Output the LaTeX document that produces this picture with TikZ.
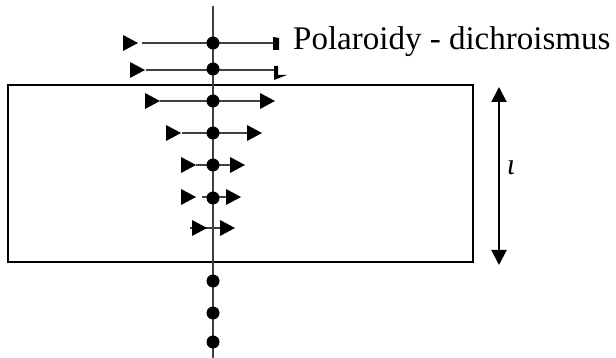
\documentclass[tikz,border=0pt]{standalone}
\usepackage{fontspec}
\setmainfont{Liberation Serif}
\usetikzlibrary{arrows.meta}
\begin{document}
\begin{tikzpicture}[x=1pt,y=-1pt,
  ray/.style={line width=2.4pt,draw=black!75},
  dot/.style={circle,fill=black,inner sep=0pt,minimum size=13pt},
  tri/.pic={\fill (0,-8) -- (15,0) -- (0,8) -- cycle;}]
\useasboundingbox (0,0) rectangle (616,358);
% polarizer
\draw[line width=1.6pt] (8,85) rectangle (473,262);
% beam axis
\coordinate (top) at (213,6);
\coordinate (bot) at (213,358);
\draw[ray] (top) -- (bot);
% row 1
\coordinate (a1) at (142,43); \coordinate (b1) at (275,43);
\draw[ray] (a1) -- (b1);
\pic at (123,43) {tri};
\fill (273,37) -- (279,38) -- (279,50) -- (273,50) -- cycle;
% row 2
\coordinate (a2) at (146,70); \coordinate (b2) at (277,70);
\draw[ray] (a2) -- (b2);
\pic at (130,70) {tri};
\fill (274,66) -- (278,66) -- (278,75) -- (287,75) -- (274,80) -- cycle;
% row 3
\coordinate (a3) at (160,101); \coordinate (b3) at (260,101);
\draw[ray] (a3) -- (b3);
\pic at (145,101) {tri}; \pic at (260,101) {tri};
% row 4
\coordinate (a4) at (182,133); \coordinate (b4) at (247,133);
\draw[ray] (a4) -- (b4);
\pic at (166,133) {tri}; \pic at (247,133) {tri};
% row 5
\coordinate (a5) at (196,165); \coordinate (b5) at (230,165);
\draw[ray] (a5) -- (b5);
\pic at (181,165) {tri}; \pic at (230,165) {tri};
% row 6
\coordinate (a6) at (202,197); \coordinate (b6) at (226,197);
\draw[ray] (a6) -- (b6);
\pic at (181,197) {tri}; \pic at (226,197) {tri};
% row 7
\coordinate (a7) at (190,228); \coordinate (b7) at (220,228);
\draw[ray] (a7) -- (b7);
\pic at (192,228) {tri}; \pic at (220,228) {tri};
% dots
\foreach \n/\y in {1/43,2/69,3/101,4/133,5/165,6/198,7/281,8/313,9/342}
  \node[dot] (d\n) at (213,\y) {};
% label
\node[anchor=base west,font=\fontsize{33}{38}\selectfont,inner sep=0pt] (lab) at (293,50) {Polaroidy - dichroismus};
% thickness arrow
\coordinate (t1) at (499,87);
\coordinate (t2) at (499,265);
\draw[line width=2pt,{Triangle[width=15pt,length=15pt]}-{Triangle[width=15pt,length=15pt]}] (t1) -- (t2);
\node[font=\fontsize{30}{32}\selectfont\itshape,inner sep=0pt,anchor=base] (ell) at (511,175) {ι};
\end{tikzpicture}
\end{document}
